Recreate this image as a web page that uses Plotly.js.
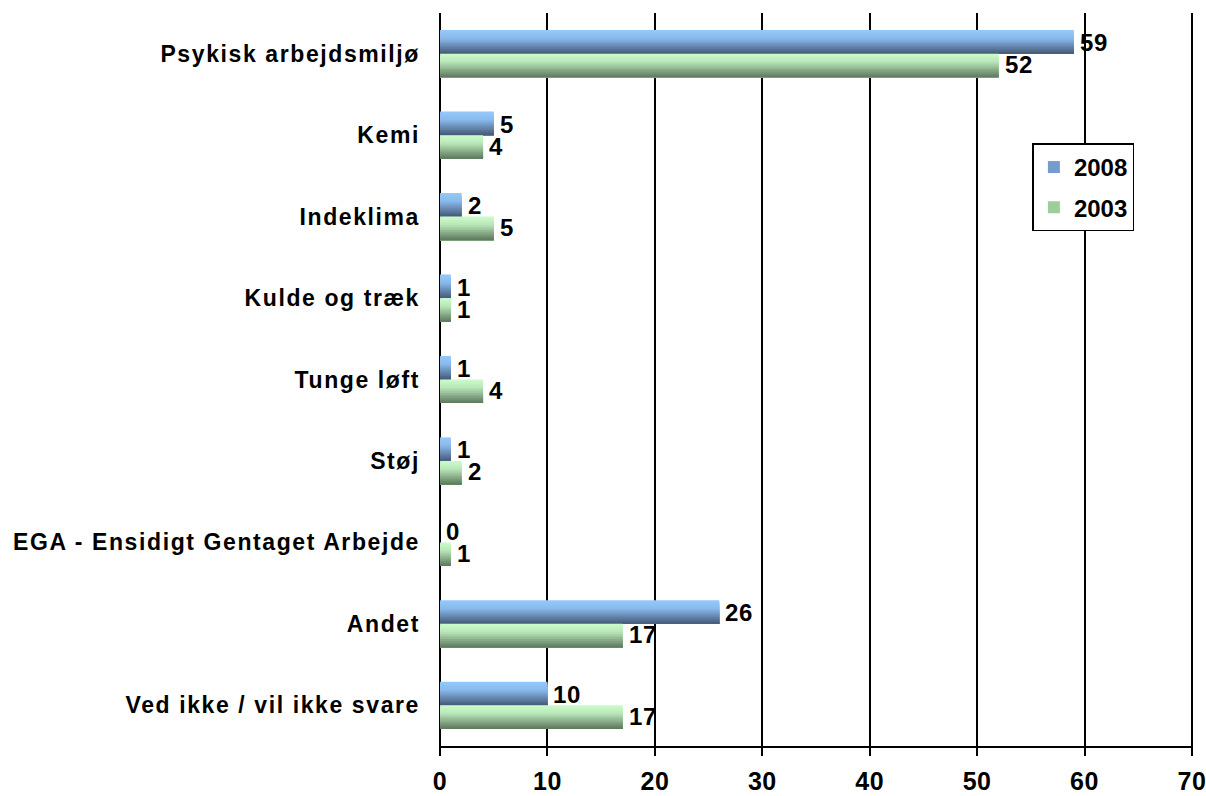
<!DOCTYPE html>
<html>
<head>
<meta charset="utf-8">
<script src="https://cdn.plot.ly/plotly-3.0.1.min.js"></script>
<style>
html,body{margin:0;padding:0;background:#fff;}
#chart{width:1206px;height:796px;}
.ytick text{letter-spacing:1.6px;}
.xtick text{letter-spacing:0.5px;}
.annotation-text{letter-spacing:0.6px;}
</style>
</head>
<body>
<div id="chart"></div>
<script>
// ---- data ----
const categories = [
  "Psykisk arbejdsmiljø",
  "Kemi",
  "Indeklima",
  "Kulde og træk",
  "Tunge løft",
  "Støj",
  "EGA - Ensidigt Gentaget Arbejde",
  "Andet",
  "Ved ikke / vil ikke svare"
];
const values2008 = [59, 5, 2, 1, 1, 1, 0, 26, 10];
const values2003 = [52, 4, 5, 1, 4, 2, 1, 17, 17];
const seriesNames = ["2008", "2003"];
const xTickValues = [0, 10, 20, 30, 40, 50, 60, 70];

// ---- styles ----
const FONT = "Liberation Sans, Arial, sans-serif";
const barW = 0.29;
const nStrips = 14;
const blueStops = [[0, [150, 202, 250]], [0.35, [136, 186, 236]], [1, [68, 88, 118]]];
const greenStops = [[0, [204, 252, 204]], [0.35, [184, 230, 184]], [1, [92, 118, 92]]];

function colorAt(stops, t) {
  for (let i = 0; i < stops.length - 1; i++) {
    const [t0, c0] = stops[i], [t1, c1] = stops[i + 1];
    if (t >= t0 && t <= t1) {
      const f = (t - t0) / (t1 - t0);
      const c = c0.map((v, k) => Math.round(v + (c1[k] - v) * f));
      return `rgb(${c[0]},${c[1]},${c[2]})`;
    }
  }
  const c = stops[stops.length - 1][1];
  return `rgb(${c[0]},${c[1]},${c[2]})`;
}

const traces = [];
function addSeries(vals, name, stops, baseOffset, legendMid) {
  for (let i = 0; i < nStrips; i++) {
    const start = baseOffset + i * barW / nStrips;
    const t = (i + 0.5) / nStrips;
    traces.push({
      type: "bar",
      orientation: "h",
      x: vals,
      y: categories,
      width: baseOffset + barW - start,
      offset: start,
      marker: { color: colorAt(stops, t), line: { width: 0 } },
      name: name,
      legendgroup: name,
      showlegend: false,
      hoverinfo: "skip"
    });
  }
  traces.push({
    type: "bar",
    orientation: "h",
    x: [null],
    y: [categories[0]],
    name: name,
    legendgroup: name,
    showlegend: true,
    marker: { color: legendMid, line: { width: 0 } }
  });
}
addSeries(values2008, seriesNames[0], blueStops, -barW, "rgb(116,156,204)");
addSeries(values2003, seriesNames[1], greenStops, 0, "rgb(156,206,156)");

const annotations = [];
categories.forEach((c, i) => {
  annotations.push({
    x: values2008[i], y: c, xref: "x", yref: "y",
    text: String(values2008[i]), showarrow: false,
    xanchor: "left", yanchor: "middle", xshift: 5, yshift: 11, borderpad: 0,
    font: { family: FONT, size: 24, color: "#000", weight: "bold" }
  });
  annotations.push({
    x: values2003[i], y: c, xref: "x", yref: "y",
    text: String(values2003[i]), showarrow: false,
    xanchor: "left", yanchor: "middle", xshift: 5, yshift: -11, borderpad: 0,
    font: { family: FONT, size: 24, color: "#000", weight: "bold" }
  });
});

const layout = {
  width: 1206,
  height: 796,
  margin: { l: 439, r: 13, t: 13, b: 50 },
  paper_bgcolor: "#fff",
  plot_bgcolor: "#fff",
  barmode: "overlay",
  font: { family: FONT, color: "#000", weight: "bold" },
  showlegend: true,
  legend: {
    x: 0.787, y: 0.822, xanchor: "left", yanchor: "top",
    bgcolor: "#fff", bordercolor: "#000", borderwidth: 1.5,
    font: { family: FONT, size: 24, color: "#000", weight: "bold" },
    traceorder: "grouped", tracegroupgap: 6
  },
  xaxis: {
    range: [-0.1, 70.1],
    tickvals: xTickValues,
    ticktext: xTickValues.map(String),
    showgrid: true, gridcolor: "#000", gridwidth: 2,
    zeroline: false,
    showline: true, linecolor: "#000", linewidth: 2,
    ticks: "outside", ticklen: 8, tickwidth: 2, tickcolor: "#000",
    ticklabelstandoff: 4,
    ticklabeloverflow: "allow",
    tickfont: { family: FONT, size: 25, color: "#000", weight: "bold" },
    fixedrange: true
  },
  yaxis: {
    type: "category",
    autorange: "reversed",
    showgrid: false,
    showline: false,
    zeroline: false,
    ticks: "",
    ticklabelstandoff: 18,
    tickfont: { family: FONT, size: 23, color: "#000", weight: "bold" },
    fixedrange: true
  },
  annotations: annotations
};

Plotly.newPlot("chart", traces, layout, { displayModeBar: false, staticPlot: true });
</script>
</body>
</html>
